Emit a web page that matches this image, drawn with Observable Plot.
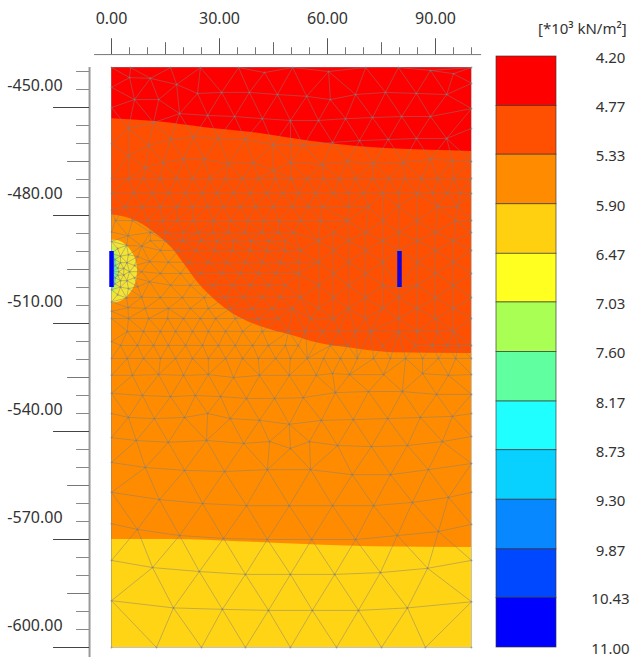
<!DOCTYPE html>
<html>
<head>
<meta charset="utf-8">
<script src="https://cdn.jsdelivr.net/npm/d3@7"></script>
<script src="https://cdn.jsdelivr.net/npm/@observablehq/plot@0.6"></script>
<style>
  html, body { margin: 0; padding: 0; background: #fff; }
  #chart { position: relative; width: 630px; height: 657px; overflow: hidden; }
  #chart svg { position: absolute; left: 0; top: 0; }
</style>
</head>
<body>
<div id="chart"></div>
<script>
// ---- contour band boundaries (x in m, y in m) ----
const topY = -438.9, bottomY = -600;
const redEdge = [[0,-453.1],[12.2,-453.9],[26.1,-455.6],[38.6,-456.9],[48.3,-458.3],[60.3,-460],[76.1,-461.4],[88.6,-461.9],[100,-462.2]];
const orangeRedEdge = [[0,-479.8],[3,-480.3],[7.5,-481.9],[12.2,-485],[16.9,-489.2],[20.5,-493.9],[24.2,-498.9],[28.9,-503.6],[33.6,-507.2],[39.2,-510],[44.7,-511.9],[51.1,-513.6],[56.7,-515.3],[66.9,-516.9],[78.1,-518.1],[100,-518.3]];
const orangeEdge = [[0,-570],[17,-570],[35.3,-570.6],[53.9,-571.4],[72.5,-572],[100,-572.2]];
// ---- stress bulb round the left wall: [y, x reach] ----
const bulbYellow = [[-486.9,0],[-487.2,2.5],[-488.9,4.7],[-491.4,6.4],[-494.7,7.2],[-498.1,6.9],[-501.1,5.6],[-503.6,3.1],[-504.4,0]];
const bulbLime = [[-488.5,0],[-490,1.6],[-495,2.3],[-500,1.6],[-502,0]];
const bulbGreen = [[-490,0],[-491,1],[-495,1.6],[-499.5,1],[-500.5,0]];
const bulbCyan = [[-491,0],[-495,1],[-499.5,0]];
// ---- walls ----
const walls = [{x:0,y1:-490,y2:-500,c:"#0000f5"},{x:80,y1:-490,y2:-500,c:"#1400d8"}];

// ---- colour legend ----
const levels = [4.20,4.77,5.33,5.90,6.47,7.03,7.60,8.17,8.73,9.30,9.87,10.43,11.00];
const levelColors = ["#ff0000","#ff4f00","#ff8c00","#ffd010","#ffff20","#aaff55","#60ff9f","#20ffff","#08d0ff","#0888ff","#0048ff","#0000ff"];

// ---- axis ticks ----
const xMajor = [0,30,60,90];
const xMedium = [15,45,75];
const xMinor = [5,10,20,25,35,40,50,55,65,70,80,85,95,100];
const yMajor = [-450,-480,-510,-540,-570,-600];
const yMedium = [-465,-495,-525,-555,-585];
const yMinor = [-440,-445,-455,-460,-470,-475,-485,-490,-500,-505,-515,-520,-530,-535,-545,-550,-560,-565,-575,-580,-590,-595];
const xAxisAt = -435.3, yAxisAt = -6.1;

// ---- finite-element mesh nodes, read row by row ----
const row = (y, xs) => xs.map(x => [x, y]);
const nodesTop = [
  ...row(-438.9,[0,5.3,16.4,24.7,35.3,50.3,70.6,79.7,100]),
  [60.3,-440],[88.6,-439.7],[95,-440.6],[42.5,-440.3],
  [5,-441.7],[10.8,-441.9],[18.1,-443.6],[23.9,-446.1],[30.6,-445.8],[38.3,-445.8],[46.1,-446.4],[54.2,-446.9],[60.8,-447.8],[67.8,-446.4],[76.1,-445.8],[84.7,-446.1],[93.1,-446.4],[0,-444.4],[100,-443.3],
  [6.4,-447.8],[13.1,-447.8],[18.9,-451.7],[26.7,-452.2],[34.2,-452.5],[41.9,-453.1],[49.7,-453.6],[57.5,-453.6],[65,-453.1],[72.5,-452.8],[80.6,-452.5],[88.6,-452.5],[0,-450],[100,-450.3],
  [61.4,-459.7],[68.9,-459.2],[76.9,-458.9],[84.7,-458.6],[93.1,-458.6],[100,-455.8],[4.7,-455.8],[11.7,-454.2],
  [16.4,-458.9],[22.8,-458.3],[29.7,-458.6],[37.2,-458.9],[45,-460.3],[49.7,-460.6],[53.3,-460.6],[0,-460],
  [10.3,-460.6],[4.7,-463.3],[9.4,-466.7],[14.4,-465.3],[20,-464.4],[25.8,-464.4],[32.5,-465.6],[39.4,-465.3],[45,-467.5],[49.7,-465.3],[58.6,-465.8],[65.6,-465],[72.8,-465.6],[81.1,-465.3],[88.6,-464.4],[94.7,-464.7],[100,-465]
];
const nodesMiddle = [
  ...row(-469.7,[0,4.7,8.9,13.6,18.1,22.5,27.2,31.7,36.4,40.8,45.6,50,54.4,58.9,63.3,67.8,72.5,77,81.4,86.1,90.6,95,100]),
  ...row(-473.9,[0,6.1,11.4,15.8,20.6,25.3,29.4,33.9,38.6,43.3,47.5,51.9,56.7,61.7,65.8,70,75.3,79.7,85,89.2,93.3,96.9,100]),
  ...row(-477.5,[3.9,8.6,13.6,18.3,22.5,26.7,31.1,35.8,40,45,50.3,54.7,58.6,65.8,71.4,79.7,90.6,96.1]),[0,-478.5],
  ...row(-481.4,[1.1,5.8,10,14.2,18.3,22.8,28.3,33,37.8,42.2,46.4,52.5,58,65.6,75.3,85,95.6,100]),
  ...row(-484.7,[10.8,15,20,24.2,28.3,32.5,37.2,41.9,46.4,50.6,61.7,70.6,79.7,90,100]),
  ...row(-487,[10.8,15,19.7,24.7,29.2,33.9,38.6,43.6,48.3,57.5,65.8,75.3,85,95]),
  ...row(-489.7,[13.6,18.6,23.6,28.9,33.6,38.6,43.3,48.3,52.5,61.7,70.6,79.7,90,100]),
  ...row(-493,[15.8,21.4,26.9,31.9,37.2,41.9,46.9,51.9,57.5,65.8,75.3,85,95]),
  ...row(-496.1,[13.6,19.2,24.7,30.8,35.8,40.8,45.8,51.9,61.7,70.6,90,100]),
  ...row(-499.4,[16.4,21.9,28.1,33.6,38.6,43.6,48.3,57.5,65.8,75.3,85,95]),[79.7,-500],
  ...row(-502.8,[13.6,19.7,25.8,31.7,36.7,41.9,46.9,52.5,61.7,70.6,79.7,90,100]),
  ...row(-505.8,[9.4,15.8,21.9,26.9,33,39.2,44.7,50.3,57.5,65.8,75.3,85,95]),
  ...row(-508.6,[0,4.7,10.3,15.6,20,24.7,28.9,34.4,40.8,46.4,55.3,61.7,70.6,79.7,90,100]),
  ...row(-512.2,[4.4,8.9,13.6,17.8,22.5,26.9,31.7,36.4,41.9,49.2,53.9,58.6,63.1,67.8,71.9,79.7,85,90.6,95]),
  ...row(-516.1,[2.5,7.2,11.7,15.8,20.6,25.3,29.7,34.4,39.2,43.6,48.3,51.9,60.8,65.6,75.3,84.4,89.2,93.3,96.4,100]),[0,-515],
  ...row(-519.7,[0,4.4,8.9,13.6,17.8,22.5,26.9,31.7,36.4,40.8,45.6,49.7,54.4,58.9,63.6,68.3,72.8,77.5,81.7,86.4,90.8,95.6,100])
];
const nodesBulb = [
  [0,-484.6],[4.6,-485.6],[8.4,-488.5],[10.6,-492.8],[10.6,-498.4],[8.4,-502.7],[4.6,-505.6],[0,-506.6],
  [0,-487.2],[4.2,-488.3],[7.3,-491.4],[8.4,-495.6],[7.3,-499.8],[4.2,-502.9],[0,-504],
  [1.7,-489.2],[4.7,-490.9],[6.4,-493.9],[6.4,-497.3],[4.7,-500.3],[1.7,-502],
  [0,-490.6],[2.5,-491.3],[4.3,-493.1],[5,-495.6],[4.3,-498.1],[2.5,-499.9],[0,-500.6],
  [0.9,-492.2],[2.5,-493.1],[3.4,-494.7],[3.4,-496.5],[2.5,-498.1],[0.9,-499],
  [0,-493.6],[1,-493.9],[1.7,-494.6],[2,-495.6],[1.7,-496.6],[1,-497.3],[0,-497.6],[0,-495.6]
];
const nodesLower = [
  [0,-524.4],[5.8,-524.4],[13.1,-524.2],[20,-524.4],[26.9,-524.2],[33.9,-525],[41.1,-524.4],[49.4,-524.4],[56.9,-524.4],[61.4,-523.9],[66.1,-524.2],[75.6,-524.2],[86.4,-523.9],[93.6,-524.4],[100,-524.2],
  [0,-529.4],[8.6,-530],[16.4,-530.3],[23.3,-530],[30.3,-530.3],[37.5,-530.8],[45.3,-530.8],[53.3,-530.6],[62.2,-529.2],[71.4,-528.9],[80.8,-528.9],[90.3,-529.7],[100,-529.7],
  [0,-535],[4.7,-536.1],[11.9,-536.4],[20.3,-536.1],[26.7,-535],[33,-536.4],[41.1,-536.9],[49.4,-538],[58.3,-536.9],[67.2,-536.7],[76.7,-536.4],[85.8,-536.1],[94.7,-535.8],[100,-535],
  [0,-541.7],[6.9,-542.5],[15.8,-543],[26.4,-542.5],[36.7,-543.3],[43.9,-542.8],[49.7,-544.7],[55,-542.8],[62.8,-543.9],[72.2,-544.2],[82.2,-543.9],[91.9,-542.8],[100,-541.4],
  [0,-548.6],[9.4,-550],[20.3,-550.8],[31.4,-551.1],[43.3,-550.6],[55.3,-550.6],[66.9,-552],[77.5,-552],[88,-550.6],[100,-548.9],
  [0,-556.9],[13.3,-558.9],[25.3,-560],[37.5,-560.6],[49.4,-560.6],[61.4,-560.6],[72.8,-560.6],[83.6,-559.7],[93.6,-558.3],[100,-556.9],
  [0,-565.6],[7.2,-567.2],[18.9,-568.9],[31.1,-569.7],[43.3,-570],[55.6,-570],[67.8,-570],[79.4,-568.9],[90.8,-567.8],[100,-565.8],
  [0,-575.8],[11.4,-577.8],[24.4,-578.9],[37.2,-579.7],[49.7,-579.7],[62,-579.7],[74.7,-579.2],[87.8,-578],[100,-575.8],
  [0,-587],[17.2,-589],[30.8,-589.4],[43.6,-589.7],[55.8,-589.7],[68.6,-589.7],[82.2,-589],[100,-587.3],
  ...row(-600,[0,12.5,25,37.2,49.7,62.5,75,87.2,100])
];
const meshNodes = [...nodesTop, ...nodesMiddle, ...nodesBulb, ...nodesLower];

const font = "'Noto Sans', sans-serif";
const textColor = "#333333";
const two = d => d.toFixed(2);
const fromTop = (edge, fill) => Plot.areaY(edge, {x: d => d[0], y1: () => topY, y2: d => d[1], fill, curve: "monotone-x"});
const fromWall = (edge, fill) => Plot.areaX(edge, {y: d => d[0], x1: () => 0, x2: d => d[1], fill, curve: "natural"});
const xTicks = (values, reach, stroke) => Plot.ruleX(values, {x: d => d, y1: () => xAxisAt, y2: () => xAxisAt + reach, stroke, strokeWidth: 1});
const yTicks = (values, reach, stroke) => Plot.ruleY(values, {y: d => d, x1: () => yAxisAt, x2: () => yAxisAt - reach, stroke, strokeWidth: 1});

const main = Plot.plot({
  width: 630, height: 657,
  marginTop: 54, marginLeft: 89, marginRight: 0, marginBottom: 0,
  style: {background: "none", fontFamily: font, fontSize: "16px", color: textColor},
  x: {domain: [0, 100], range: [111, 471], axis: null},
  y: {domain: [-600, -450], range: [647, 107], axis: null},
  marks: [
    Plot.rect([0], {x1: () => 0, x2: () => 100, y1: () => bottomY, y2: () => topY, fill: "#ffd414"}),
    fromTop(orangeEdge, "#ff8c00"),
    fromTop(orangeRedEdge, "#ff4f00"),
    fromTop(redEdge, "#ff0000"),
    fromWall(bulbYellow, "#f4e432"),
    fromWall(bulbLime, "#c4ee50"),
    fromWall(bulbGreen, "#70f0a0"),
    fromWall(bulbCyan, "#30e0e0"),
    Plot.delaunayMesh(meshNodes, {x: d => d[0], y: d => d[1], stroke: "#7f7f7f", strokeOpacity: 0.52, strokeWidth: 0.9}),
    Plot.dot(meshNodes, {x: d => d[0], y: d => d[1], r: 1, fill: "#7f7f7f", fillOpacity: 0.6}),
    Plot.ruleX(walls, {x: "x", y1: "y1", y2: "y2", stroke: "c", strokeWidth: 4.5}),
    // top axis
    Plot.ruleY([xAxisAt], {x1: () => -4.7, x2: () => 102.8, stroke: "#777777", strokeWidth: 1}),
    xTicks(xMinor, 1.9, "#777777"),
    xTicks(xMedium, 3.3, "#666666"),
    xTicks(xMajor, 4.4, "#555555"),
    Plot.text(xMajor, {x: d => d, y: () => xAxisAt + 9.9, text: two, fill: textColor}),
    // left axis
    Plot.ruleX([yAxisAt], {y1: () => topY, y2: () => -603, stroke: "#999999", strokeWidth: 2}),
    yTicks(yMinor, 3.6, "#888888"),
    yTicks(yMedium, 6.1, "#777777"),
    yTicks(yMajor, 10, "#444444"),
    Plot.text(yMajor, {x: () => -13.6, y: d => d, dy: -22, textAnchor: "end", text: two, fill: textColor})
  ]
});

const bands = levelColors.map((fill, i) => ({lo: levels[i], hi: levels[i + 1], fill}));
const legend = Plot.plot({
  width: 630, height: 657,
  marginTop: 0, marginLeft: 0, marginRight: 0, marginBottom: 0,
  style: {background: "none", fontFamily: font, fontSize: "15px", color: textColor},
  x: {domain: [0, 1], range: [496, 556], axis: null},
  y: {domain: [4.2, 11], range: [56, 647], axis: null},
  marks: [
    Plot.rect(bands, {x1: () => 0, x2: () => 1, y1: "lo", y2: "hi", fill: "fill", stroke: "#333333", strokeWidth: 0.8, strokeOpacity: 0.8}),
    Plot.text(levels, {x: () => 1.9, y: d => d, text: two, dy: 1.5, fill: textColor}),
    Plot.text(["[*10³ kN/m²]"], {x: () => 1.43, y: () => 3.88, text: d => d, fill: textColor})
  ]
});

const chart = document.getElementById("chart");
chart.append(main, legend);
</script>
</body>
</html>
